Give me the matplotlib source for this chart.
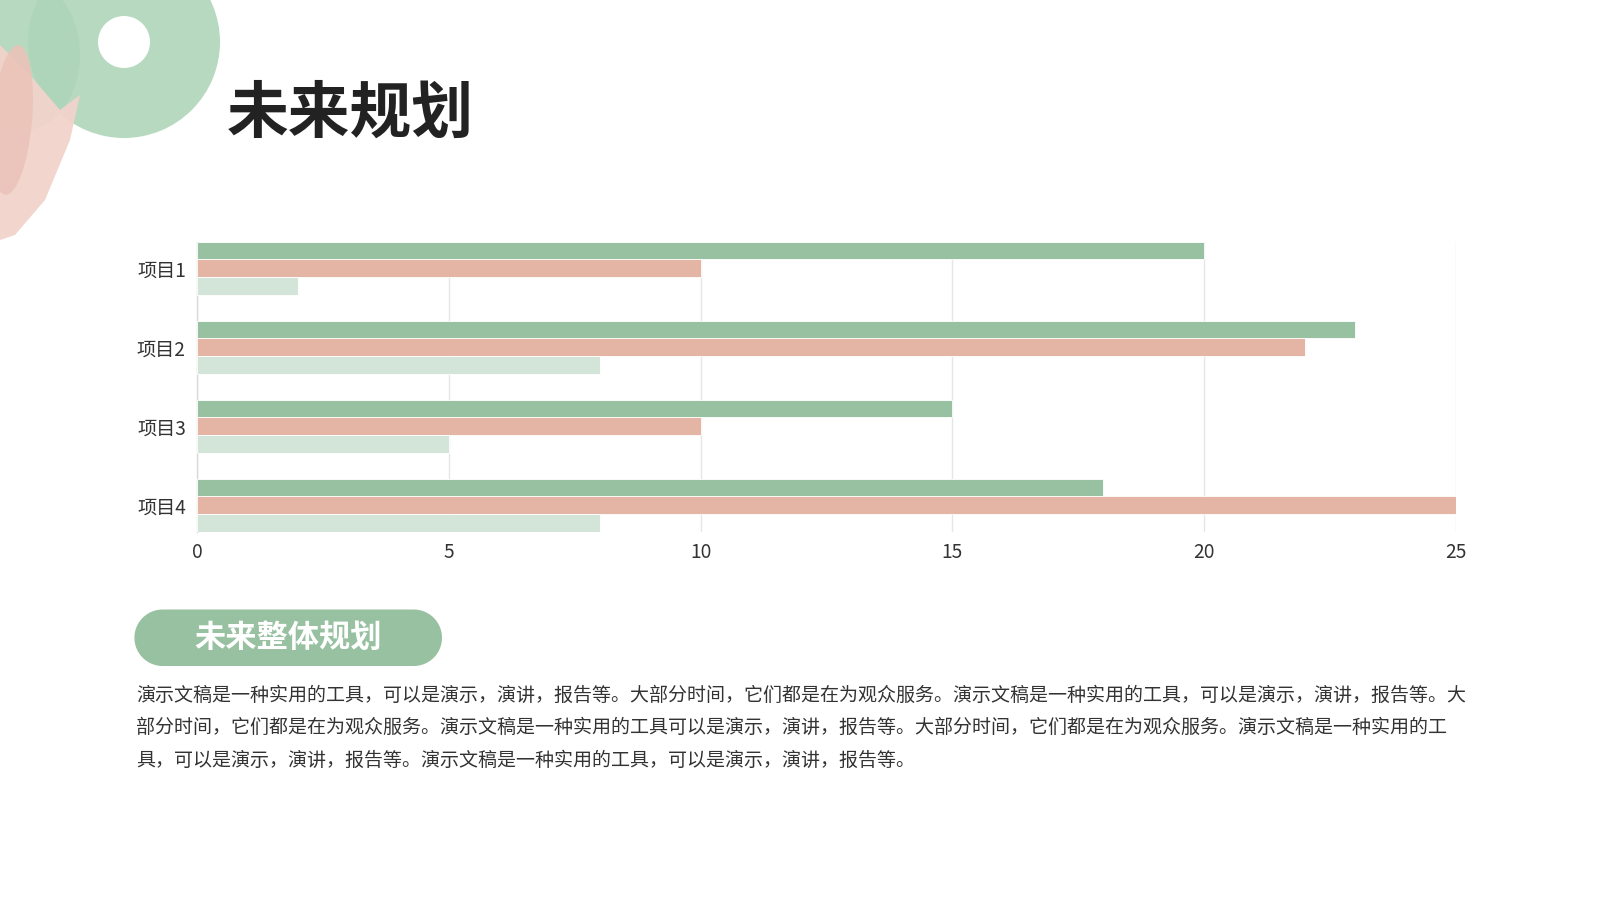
import numpy as np
import matplotlib.pyplot as plt
from matplotlib.patches import Wedge, Ellipse, Polygon

plt.rcParams['font.family'] = ['Noto Sans CJK SC', 'DejaVu Sans']

# 数据
projects = ['项目1', '项目2', '项目3', '项目4']
series_a = [20, 23, 15, 18]
series_b = [10, 22, 10, 25]
series_c = [2, 8, 5, 8]
x_ticks = [0, 5, 10, 15, 20, 25]

title = '未来规划'
badge = '未来整体规划'
para_lines = [
    '演示文稿是一种实用的工具，可以是演示，演讲，报告等。大部分时间，它们都是在为观众服务。演示文稿是一种实用的工具，可以是演示，演讲，报告等。大',
    '部分时间，它们都是在为观众服务。演示文稿是一种实用的工具可以是演示，演讲，报告等。大部分时间，它们都是在为观众服务。演示文稿是一种实用的工',
    '具，可以是演示，演讲，报告等。演示文稿是一种实用的工具，可以是演示，演讲，报告等。',
]

c_dark = '#97c1a0'
c_pink = '#e4b4a4'
c_light = '#d3e5d8'

fig = plt.figure(figsize=(16, 9), dpi=100)
fig.patch.set_facecolor('white')

# 背景层（像素坐标）
bg = fig.add_axes([0, 0, 1, 1], zorder=0)
bg.set_xlim(0, 1600)
bg.set_ylim(900, 0)
bg.axis('off')

# 左上角笔刷装饰
g = '#aed5ba'
bg.add_patch(Wedge((124, 42), 96, 0, 360, width=70, color=g, alpha=0.9, lw=0))
bg.add_patch(Ellipse((25, 55), 110, 150, color=g, alpha=0.9, lw=0))
bg.add_patch(Polygon([(0, 45), (30, 75), (60, 110), (80, 95), (70, 140), (45, 200),
                      (15, 235), (0, 240)], closed=True, color='#f2d3cb', alpha=0.95, lw=0))
bg.add_patch(Ellipse((12, 120), 40, 150, angle=5, color='#ebc3b9', alpha=0.9, lw=0))

bg.text(227, 114, title, fontsize=44.5, fontweight='heavy', color='#222222',
        ha='left', va='center')

# 圆角标签（一个整体轮廓）
px0, px1, py0, py1 = 134.4, 442, 609.5, 666
r = (py1 - py0) / 2
cy = py0 + r
t_right = np.linspace(-np.pi / 2, np.pi / 2, 40)
t_left = np.linspace(np.pi / 2, 3 * np.pi / 2, 40)
outline = [(px1 - r + r * np.cos(t), cy + r * np.sin(t)) for t in t_right] + \
          [(px0 + r + r * np.cos(t), cy + r * np.sin(t)) for t in t_left]
bg.add_patch(Polygon(outline, closed=True, facecolor=c_dark, edgecolor='none'))
bg.text(288, 638, badge, fontsize=22.5, fontweight='bold', color='white',
        ha='center', va='center', zorder=5)

for i, line in enumerate(para_lines):
    bg.text(136, 695.5 + i * 32.3, line, fontsize=13.7, color='#333333',
            ha='left', va='center')

# 条形图
h = 0.225
ax = fig.add_axes([197 / 1600, 1 - 532 / 900, 1259 / 1600, 290.3 / 900], zorder=1)
ax.patch.set_alpha(0)
ypos = list(range(len(projects)))
ax.barh([y - h for y in ypos], series_a, height=h, color=c_dark, edgecolor='white', linewidth=0.6, zorder=3)
ax.barh(ypos, series_b, height=h, color=c_pink, edgecolor='white', linewidth=0.6, zorder=3)
ax.barh([y + h for y in ypos], series_c, height=h, color=c_light, edgecolor='white', linewidth=0.6, zorder=3)

ax.set_xlim(0, 25)
ax.set_ylim(len(projects) - 1 + 1.5 * h, -1.5 * h)
ax.set_yticks(ypos)
ax.set_yticklabels(projects)
ax.set_xticks(x_ticks)
ax.tick_params(axis='both', length=0, labelsize=13.8, colors='#333333')
ax.tick_params(axis='y', pad=8)
ax.tick_params(axis='x', pad=7.5)
ax.grid(axis='x', color='#e6e6e6', linewidth=1, zorder=0)
for s in ['top', 'right', 'bottom']:
    ax.spines[s].set_visible(False)
ax.spines['left'].set_color('#d9d9d9')
ax.spines['left'].set_linewidth(1)

fig.savefig('out.png', dpi=100, facecolor='white')
